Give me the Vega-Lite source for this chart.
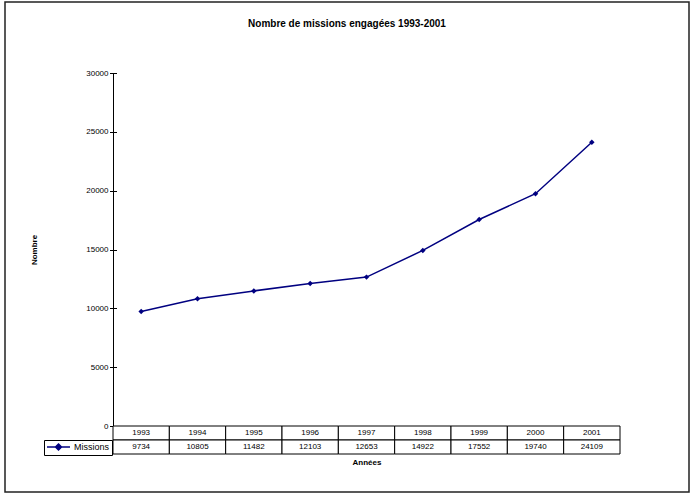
{
  "$schema": "https://vega.github.io/schema/vega-lite/v6.json",
  "width": 684,
  "height": 490,
  "autosize": {"type": "none"},
  "padding": {"left": 5, "top": 2, "right": 3, "bottom": 6},
  "background": "white",
  "title": {
    "text": "Nombre de missions engagées 1993-2001",
    "fontSize": 10,
    "fontWeight": "bold",
    "font": "Liberation Sans",
    "color": "black",
    "anchor": "middle",
    "frame": "group",
    "offset": -27
  },
  "config": {
    "view": {"stroke": "#222222", "strokeWidth": 1.5},
    "axis": {
      "labelFont": "Liberation Sans",
      "titleFont": "Liberation Sans",
      "labelColor": "black",
      "titleColor": "black",
      "domainColor": "black",
      "tickColor": "black",
      "grid": false
    },
    "legend": {"labelFont": "Liberation Sans"},
    "text": {"font": "Liberation Sans"}
  },
  "data": {
    "values": [
      {"Year": "1993", "Missions": 9734},
      {"Year": "1994", "Missions": 10805},
      {"Year": "1995", "Missions": 11482},
      {"Year": "1996", "Missions": 12103},
      {"Year": "1997", "Missions": 12653},
      {"Year": "1998", "Missions": 14922},
      {"Year": "1999", "Missions": 17552},
      {"Year": "2000", "Missions": 19740},
      {"Year": "2001", "Missions": 24109}
    ]
  },
  "encoding": {
    "x": {
      "field": "Year",
      "type": "ordinal",
      "scale": {"range": [108, 615], "paddingInner": 0, "paddingOuter": 0},
      "axis": {
        "title": "Années",
        "titleFontSize": 8,
        "titleFontWeight": "bold",
        "labels": false,
        "ticks": false,
        "domain": false,
        "offset": -38,
        "titlePadding": 4
      }
    }
  },
  "layer": [
    {
      "transform": [{"fold": ["Year", "Missions"], "as": ["row", "val"]}],
      "mark": {"type": "rect", "fill": "white", "stroke": "black", "strokeWidth": 1},
      "encoding": {
        "y": {
          "field": "row",
          "type": "nominal",
          "scale": {"domain": ["Year", "Missions"], "range": [424, 452], "paddingInner": 0, "paddingOuter": 0},
          "axis": null
        }
      }
    },
    {
      "transform": [{"fold": ["Year", "Missions"], "as": ["row", "val"]}],
      "mark": {"type": "text", "fontSize": 8, "color": "black", "baseline": "middle"},
      "encoding": {
        "y": {
          "field": "row",
          "type": "nominal",
          "scale": {"domain": ["Year", "Missions"], "range": [424, 452], "paddingInner": 0, "paddingOuter": 0},
          "axis": null
        },
        "text": {"field": "val", "type": "nominal"}
      }
    },
    {
      "mark": {"type": "line", "strokeWidth": 1.5},
      "encoding": {
        "y": {
          "field": "Missions",
          "type": "quantitative",
          "scale": {"domain": [0, 30000], "range": [424, 71], "nice": false},
          "axis": {
            "orient": "left",
            "offset": -108,
            "values": [0, 5000, 10000, 15000, 20000, 25000, 30000],
            "format": "d",
            "title": "Nombre",
            "titleFontSize": 8,
            "titleFontWeight": "bold",
            "titlePadding": 47,
            "labelFontSize": 8,
            "labelPadding": 5,
            "ticks": false
          }
        },
        "color": {
          "datum": "Missions",
          "scale": {"range": ["#000080"]},
          "legend": {
            "orient": "none",
            "legendX": 39,
            "legendY": 438,
            "title": null,
            "strokeColor": "black",
            "padding": 2,
            "symbolType": "M-1,0L4.75,0M1.875,-0.75L2.625,0L1.875,0.75L1.125,0Z",
            "symbolSize": 64,
            "symbolStrokeWidth": 1.5,
            "symbolFillColor": "#000080",
            "symbolStrokeColor": "#000080",
            "labelOffset": 18,
            "labelFontSize": 9,
            "labelColor": "black"
          }
        }
      }
    },
    {
      "mark": {"type": "point", "shape": "diamond", "filled": true, "size": 30, "color": "#000080", "opacity": 1},
      "encoding": {
        "y": {
          "field": "Missions",
          "type": "quantitative",
          "scale": {"domain": [0, 30000], "range": [424, 71], "nice": false},
          "axis": {
            "orient": "left",
            "offset": -111.5,
            "values": [0, 5000, 10000, 15000, 20000, 25000, 30000],
            "title": null,
            "labels": false,
            "domain": false,
            "ticks": true,
            "tickSize": 7
          }
        }
      }
    }
  ],
  "resolve": {"scale": {"y": "independent"}}
}
